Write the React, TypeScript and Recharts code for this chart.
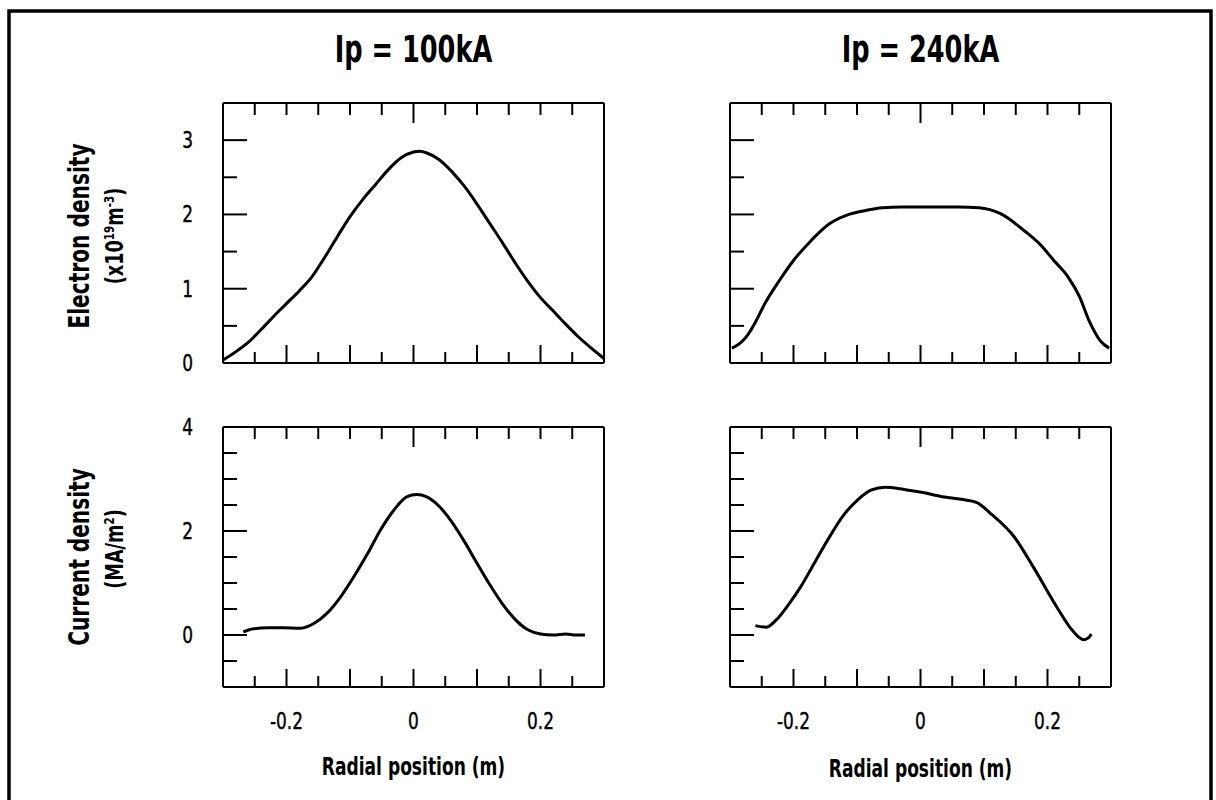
import React from 'react'
import { LineChart, Line, XAxis, YAxis } from 'recharts'

document.body.style.margin = '0'

const W = 1216
const H = 800
const FONT = "'DejaVu Sans Condensed', 'DejaVu Sans', sans-serif"

// axis ticks
const xTicks = [-0.25, -0.2, -0.15, -0.1, -0.05, 0, 0.05, 0.1, 0.15, 0.2, 0.25]
const xTickLabels = [-0.2, 0, 0.2]
const densityTicks = [0, 0.5, 1, 1.5, 2, 2.5, 3]
const densityLabels = [0, 1, 2, 3]
const currentTicks = [-0.5, 0, 0.5, 1, 1.5, 2, 2.5, 3, 3.5, 4]
const currentLabels = [0, 2, 4]

// Ip = 100kA, electron density (x10^19 m^-3)
const r100Density = [-0.3, -0.28, -0.26, -0.24, -0.22, -0.2, -0.18, -0.16, -0.14, -0.12, -0.1, -0.08, -0.06, -0.04, -0.02, 0, 0.01, 0.02, 0.04, 0.06, 0.08, 0.1, 0.12, 0.14, 0.16, 0.18, 0.2, 0.22, 0.24, 0.26, 0.28, 0.3]
const ne100 = [0.04, 0.15, 0.28, 0.45, 0.63, 0.8, 0.97, 1.16, 1.42, 1.7, 1.97, 2.2, 2.4, 2.6, 2.76, 2.84, 2.85, 2.83, 2.74, 2.58, 2.38, 2.14, 1.88, 1.62, 1.35, 1.1, 0.88, 0.7, 0.52, 0.35, 0.2, 0.06]

// Ip = 240kA, electron density
const r240Density = [-0.297, -0.285, -0.272, -0.26, -0.245, -0.223, -0.2, -0.172, -0.144, -0.116, -0.088, -0.06, -0.03, 0, 0.03, 0.06, 0.092, 0.126, 0.165, 0.188, 0.21, 0.233, 0.25, 0.266, 0.283, 0.297]
const ne240 = [0.2, 0.26, 0.38, 0.55, 0.8, 1.1, 1.38, 1.65, 1.87, 1.99, 2.05, 2.09, 2.1, 2.1, 2.1, 2.1, 2.09, 2.01, 1.77, 1.6, 1.38, 1.15, 0.9, 0.56, 0.3, 0.2]

// Ip = 100kA, current density (MA/m^2)
const r100Current = [-0.268, -0.252, -0.23, -0.205, -0.178, -0.157, -0.136, -0.115, -0.094, -0.072, -0.052, -0.031, -0.01, 0.005, 0.02, 0.04, 0.06, 0.08, 0.1, 0.12, 0.14, 0.16, 0.18, 0.2, 0.22, 0.24, 0.255, 0.27]
const j100 = [0.06, 0.12, 0.14, 0.14, 0.13, 0.22, 0.42, 0.73, 1.12, 1.57, 2.02, 2.4, 2.66, 2.7, 2.66, 2.48, 2.18, 1.8, 1.38, 0.97, 0.6, 0.3, 0.1, 0.02, 0, 0.02, 0, 0]

// Ip = 240kA, current density
const r240Current = [-0.26, -0.243, -0.228, -0.207, -0.189, -0.171, -0.147, -0.122, -0.098, -0.077, -0.056, -0.026, 0.004, 0.034, 0.064, 0.088, 0.112, 0.148, 0.178, 0.215, 0.239, 0.257, 0.265, 0.269]
const j240 = [0.18, 0.15, 0.28, 0.6, 0.92, 1.3, 1.81, 2.29, 2.61, 2.79, 2.84, 2.8, 2.74, 2.66, 2.61, 2.55, 2.32, 1.88, 1.3, 0.53, 0.09, -0.09, -0.05, 0.02]

const zip = (xs: number[], ys: number[]) => xs.map((x, i) => ({ x, y: ys[i] }))

const near = (a: number, b: number) => Math.abs(a - b) < 1e-6
const fmt = (v: number) => (near(v, 0) ? '0' : String(v))

// narrow text: the original uses a condensed face, so squeeze horizontally
function NText({ x, y, rotate = 0, sx = 0.8, size, bold, anchor = 'middle', children }: any) {
  return (
    <g transform={`translate(${x},${y}) rotate(${rotate}) scale(${sx},1)`}>
      <text
        x={0}
        y={0}
        textAnchor={anchor}
        fontFamily={FONT}
        fontSize={size}
        fontWeight={bold ? 700 : 400}
        fill="#000"
        stroke={bold ? 'none' : '#000'}
        strokeWidth={bold ? 0 : 0.4}
      >
        {children}
      </text>
    </g>
  )
}

function BottomTick({ x, y, payload, showLabels }: any) {
  const v = payload.value
  const major = near(Math.round(v * 10), v * 10)
  const len = major ? 18 : 11
  return (
    <g>
      <line x1={x} x2={x} y1={y} y2={y - len} stroke="#000" strokeWidth={2} />
      {showLabels && xTickLabels.some((t) => near(t, v)) && (
        <NText x={x} y={y + 42} size={23} sx={0.82}>{fmt(v)}</NText>
      )}
    </g>
  )
}

function TopTick({ x, y, payload }: any) {
  const len = near(payload.value, 0) ? 20 : 12
  return <line x1={x} x2={x} y1={y} y2={y + len} stroke="#000" strokeWidth={2} />
}

function SideTick({ x, y, payload, side, isMajor, labels }: any) {
  const v = payload.value
  const len = isMajor(v) ? 24 : 14
  const dir = side === 'left' ? 1 : -1
  return (
    <g>
      <line x1={x} x2={x + dir * len} y1={y} y2={y} stroke="#000" strokeWidth={2} />
      {labels && labels.some((t: number) => near(t, v)) && (
        <NText x={x - 30} y={y + 8} size={23} sx={0.82} anchor="end">{fmt(v)}</NText>
      )}
    </g>
  )
}

interface PanelProps {
  data: { x: number; y: number }[]
  left: number
  top: number
  yDomain: [number, number]
  yTicks: number[]
  yLabels?: number[]
  isMajor: (v: number) => boolean
  xLabels: boolean
}

const PW = 381
const PH = 260
const axisStyle = { stroke: '#000', strokeWidth: 2 }

function Panel({ data, left, top, yDomain, yTicks, yLabels, isMajor, xLabels }: PanelProps) {
  // axes get a 1px size (0 would make recharts skip them), so take it off the margins
  return (
    <div style={{ position: 'absolute', left: 0, top: 0 }}>
      <LineChart
        width={W}
        height={H}
        data={data}
        margin={{ left: left - 1, top: top - 1, right: W - left - PW - 1, bottom: H - top - PH - 1 }}
      >
        <XAxis
          xAxisId="b"
          dataKey="x"
          type="number"
          domain={[-0.3, 0.3]}
          ticks={xTicks}
          interval={0}
          height={1}
          tickSize={0}
          tickMargin={0}
          tickLine={false}
          axisLine={axisStyle}
          tick={(p: any) => <BottomTick {...p} showLabels={xLabels} />}
        />
        <XAxis
          xAxisId="t"
          orientation="top"
          dataKey="x"
          type="number"
          domain={[-0.3, 0.3]}
          ticks={xTicks}
          interval={0}
          height={1}
          tickSize={0}
          tickMargin={0}
          tickLine={false}
          axisLine={axisStyle}
          tick={(p: any) => <TopTick {...p} />}
        />
        <YAxis
          yAxisId="l"
          type="number"
          domain={yDomain}
          ticks={yTicks}
          interval={0}
          width={1}
          tickSize={0}
          tickMargin={0}
          tickLine={false}
          axisLine={axisStyle}
          tick={(p: any) => <SideTick {...p} side="left" isMajor={isMajor} labels={yLabels} />}
        />
        <YAxis
          yAxisId="r"
          orientation="right"
          type="number"
          domain={yDomain}
          ticks={yTicks}
          interval={0}
          width={1}
          tickSize={0}
          tickMargin={0}
          tickLine={false}
          axisLine={axisStyle}
          tick={(p: any) => <SideTick {...p} side="right" isMajor={isMajor} />}
        />
        <Line
          xAxisId="b"
          yAxisId="l"
          dataKey="y"
          type="monotone"
          stroke="#000"
          strokeWidth={3}
          dot={false}
          isAnimationActive={false}
        />
      </LineChart>
    </div>
  )
}

const LEFT_X = 223
const RIGHT_X = 730
const TOP_Y = 103
const BOTTOM_Y = 427

const densityMajor = (v: number) => near(Math.round(v), v)
const currentMajor = (v: number) => near(Math.round(v / 2) * 2, v)

function Overlay() {
  return (
    <svg width={W} height={H} style={{ position: 'absolute', left: 0, top: 0 }}>
      <rect x={9} y={11} width={1202} height={900} fill="none" stroke="#000" strokeWidth={3.5} />
      <NText x={LEFT_X + PW / 2} y={62} size={37} sx={0.77} bold>Ip = 100kA</NText>
      <NText x={RIGHT_X + PW / 2} y={62} size={37} sx={0.77} bold>Ip = 240kA</NText>

      <NText x={89} y={236} rotate={-90} size={28} sx={0.8} bold>Electron density</NText>
      <NText x={123} y={236} rotate={-90} size={24} sx={0.82} bold>
        (x10<tspan dy={-9} fontSize={14}>19</tspan>
        <tspan dy={9}>m</tspan>
        <tspan dy={-9} fontSize={14}>-3</tspan>
        <tspan dy={9}>)</tspan>
      </NText>

      <NText x={89} y={557} rotate={-90} size={28} sx={0.8} bold>Current density</NText>
      <NText x={123} y={549} rotate={-90} size={24} sx={0.82} bold>
        (MA/m<tspan dy={-9} fontSize={14}>2</tspan>
        <tspan dy={9}>)</tspan>
      </NText>

      <NText x={LEFT_X + PW / 2} y={775} size={25} sx={0.76} bold>Radial position (m)</NText>
      <NText x={RIGHT_X + PW / 2} y={777} size={25} sx={0.76} bold>Radial position (m)</NText>
    </svg>
  )
}

export default function App() {
  return (
    <div style={{ position: 'relative', width: W, height: H, background: '#fff', overflow: 'hidden' }}>
      <Overlay />
      <Panel
        data={zip(r100Density, ne100)}
        left={LEFT_X}
        top={TOP_Y}
        yDomain={[0, 3.5]}
        yTicks={densityTicks}
        yLabels={densityLabels}
        isMajor={densityMajor}
        xLabels={false}
      />
      <Panel
        data={zip(r240Density, ne240)}
        left={RIGHT_X}
        top={TOP_Y}
        yDomain={[0, 3.5]}
        yTicks={densityTicks}
        isMajor={densityMajor}
        xLabels={false}
      />
      <Panel
        data={zip(r100Current, j100)}
        left={LEFT_X}
        top={BOTTOM_Y}
        yDomain={[-1, 4]}
        yTicks={currentTicks}
        yLabels={currentLabels}
        isMajor={currentMajor}
        xLabels
      />
      <Panel
        data={zip(r240Current, j240)}
        left={RIGHT_X}
        top={BOTTOM_Y}
        yDomain={[-1, 4]}
        yTicks={currentTicks}
        isMajor={currentMajor}
        xLabels
      />
    </div>
  )
}
